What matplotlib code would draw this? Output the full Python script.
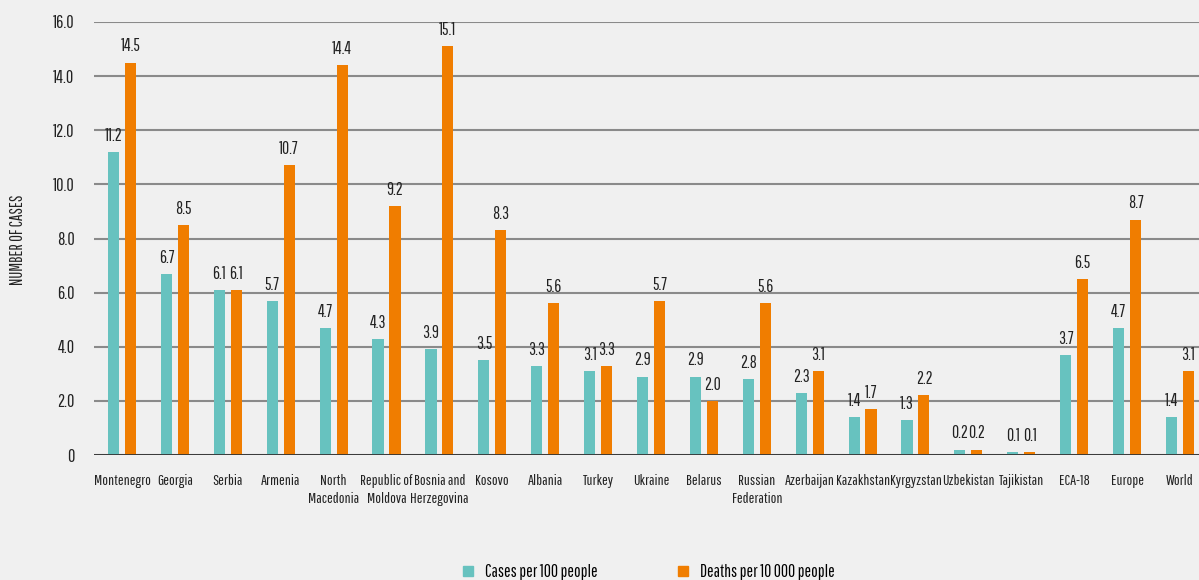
import matplotlib.pyplot as plt
import numpy as np
from matplotlib.lines import Line2D

countries = ['Montenegro', 'Georgia', 'Serbia', 'Armenia', 'North\nMacedonia',
             'Republic of\nMoldova', 'Bosnia and\nHerzegovina', 'Kosovo', 'Albania',
             'Turkey', 'Ukraine', 'Belarus', 'Russian\nFederation', 'Azerbaijan',
             'Kazakhstan', 'Kyrgyzstan', 'Uzbekistan', 'Tajikistan', 'ECA-18',
             'Europe', 'World']
cases = [11.2, 6.7, 6.1, 5.7, 4.7, 4.3, 3.9, 3.5, 3.3, 3.1, 2.9, 2.9, 2.8, 2.3,
         1.4, 1.3, 0.2, 0.1, 3.7, 4.7, 1.4]
deaths = [14.5, 8.5, 6.1, 10.7, 14.4, 9.2, 15.1, 8.3, 5.6, 3.3, 5.7, 2.0, 5.6, 3.1,
          1.7, 2.2, 0.2, 0.1, 6.5, 8.7, 3.1]
yticks = [0, 2, 4, 6, 8, 10, 12, 14, 16]
ytick_labels = ['0', '2.0', '4.0', '6.0', '8.0', '10.0', '12.0', '14.0', '16.0']

teal = '#67c2bf'
orange = '#f07d00'
bg = '#f0f0f0'
txt = '#222222'
plt.rcParams['font.family'] = ['Pathway Gothic One', 'DejaVu Sans']

fig = plt.figure(figsize=(11.99, 5.8), dpi=100, facecolor=bg)
ax = fig.add_axes([94/1199, 1 - 455/580, 1 - 94/1199, (455 - 22)/580])
ax.set_facecolor(bg)

x = np.arange(len(countries))
w = 0.21
off = 0.16
b1 = ax.bar(x - off, cases, w, color=teal, zorder=3)
b2 = ax.bar(x + off, deaths, w, color=orange, zorder=3)

for bars, vals in ((b1, cases), (b2, deaths)):
    for r, v in zip(bars, vals):
        ax.text(r.get_x() + r.get_width()/2, v + 0.3, f'{v:.1f}',
                ha='center', va='bottom', fontsize=12.5, color=txt)

ax.set_ylim(0, 16)
ax.set_xlim(-0.53, 20.36)
ax.set_yticks(yticks)
ax.set_yticklabels(ytick_labels, fontsize=13, color=txt)
ax.set_xticks(x)
ax.set_xticklabels(countries, fontsize=11, color=txt, va='top', linespacing=1.3)
ax.tick_params(axis='both', length=0)
ax.tick_params(axis='y', pad=14)
ax.tick_params(axis='x', pad=14)
ax.yaxis.grid(True, color='#8a8a8a', linewidth=1.5, zorder=0)
ax.axhline(0, color='#333333', linewidth=2, zorder=4)
for s in ax.spines.values():
    s.set_visible(False)

fig.text(18/1199, 1 - 240/580, 'NUMBER OF CASES', rotation=90, ha='center',
         va='center', fontsize=12, color=txt)

handles = [Line2D([], [], marker='s', linestyle='none', color=teal, markersize=7),
           Line2D([], [], marker='s', linestyle='none', color=orange, markersize=7)]
fig.legend(handles, ['Cases per 100 people', 'Deaths per 10 000 people'],
           loc='center', bbox_to_anchor=(647/1199, 1 - 572/580), ncol=2,
           frameon=False, fontsize=12.5, columnspacing=4.4, handlelength=1,
           handletextpad=0.5)

fig.savefig('out.png', dpi=100, facecolor=bg)
